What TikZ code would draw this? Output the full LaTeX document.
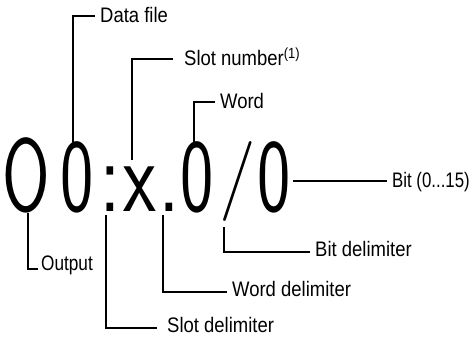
\documentclass[tikz,border=0pt]{standalone}
\usepackage{fontspec}
\setmainfont{Liberation Sans}[FakeStretch=0.88]
\newcommand{\squeeze}[2]{\scalebox{#1}[1]{#2}}
\tikzset{
  glyph/.style={font=\sffamily\fontsize{104}{108}\selectfont, inner sep=0pt, anchor=base},
  callout/.style={font=\fontsize{21}{25}\selectfont, anchor=west, inner xsep=5pt,
    inner ysep=0pt, text height=13pt, text depth=0pt},
  lowcallout/.style={callout, text depth=4pt},
  leader/.style={line width=1.8pt}
}
\begin{document}
\begin{tikzpicture}[x=1pt,y=1pt]
  \useasboundingbox (0,0) rectangle (473,337);
  % the address
  \node[glyph] (oh) at (26.6,125) {\squeeze{0.66}{O}};
  \node[glyph] (zeroa) at (77,125) {\squeeze{0.68}{0}};
  \node[glyph] (colon) at (110,125) {\squeeze{0.8}{:}};
  \node[glyph] (ex) at (139.5,125) {\squeeze{0.73}{x}};
  \node[glyph] (dot) at (169,125) {\squeeze{0.8}{.}};
  \node[glyph] (zerob) at (197.5,125) {\squeeze{0.68}{0}};
  \node[glyph] (slash) at (237.5,135) {\scalebox{0.75}[0.77]{/}};
  \node[glyph] (zeroc) at (274.5,125) {\squeeze{0.68}{0}};
  % where the leaders start
  \coordinate (tipdata) at (73.3,194);
  \coordinate (tipslotno) at (131.7,177);
  \coordinate (tipword) at (194,194);
  \coordinate (tipbit) at (293,156);
  \coordinate (tipbitdelim) at (224,110);
  \coordinate (tipout) at (28.3,124);
  \coordinate (tipworddelim) at (163,122);
  \coordinate (tipslotdelim) at (106,122);
  % labels
  \node[callout] (datafile) at (95,321.3) {Data file};
  \node[callout, inner xsep=11pt] (slotno) at (173,277.7) {Slot number\textsuperscript{(1)}};
  \node[callout] (word) at (215,235) {Word};
  \node[callout] (bitrange) at (387,156) {\squeeze{0.91}{Bit (0...15)}};
  \node[lowcallout] (bitdelim) at (310,84.7) {Bit delimiter};
  \node[lowcallout, inner xsep=3pt, text depth=10pt] (output) at (38,67.7) {\squeeze{0.93}{Output}};
  \node[lowcallout] (worddelim) at (227,45.3) {Word delimiter};
  \node[lowcallout, inner xsep=10pt] (slotdelim) at (157,9) {Slot delimiter};
  % leaders
  \draw[leader] (tipdata) |- (datafile.west);
  \draw[leader] (tipslotno) |- (slotno.west);
  \draw[leader] (tipword) |- (word.west);
  \draw[leader] (tipbit) -- (bitrange.west);
  \draw[leader] (tipbitdelim) |- (bitdelim.west);
  \draw[leader] (tipout) |- (output.west);
  \draw[leader] (tipworddelim) |- (worddelim.west);
  \draw[leader] (tipslotdelim) |- (slotdelim.west);
\end{tikzpicture}
\end{document}
